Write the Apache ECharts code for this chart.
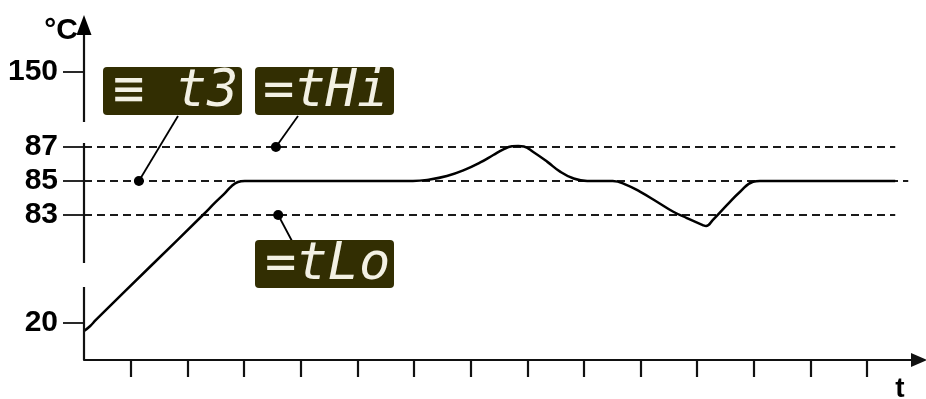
<!DOCTYPE html>
<html><head><meta charset="utf-8">
<script src="https://cdn.jsdelivr.net/npm/echarts@6/dist/echarts.min.js"></script>
<style>html,body{margin:0;padding:0;background:#fff}#c{width:926px;height:399px}</style>
</head><body><div id="c"></div>
<script>
// ---------- data ----------
const timeTicks = [1,2,3,4,5,6,7,8,9,10,11,12,13,14];
const tempTickValues = [20, 83, 85, 87, 150];
const tempTickLabels = ['20', '83', '85', '87', '150'];
const curveTime = [0.17,0.28,0.38,1.35,2.27,2.48,2.66,2.78,2.89,3.01,5.98,6.28,6.58,6.87,7.17,7.40,7.57,7.73,7.84,7.94,8.10,8.35,8.58,8.81,9.06,9.51,9.76,9.99,10.29,10.58,10.82,11.10,11.16,11.28,11.53,11.76,11.99,12.11,14.5];
const curveTemp = [15.7,18.4,23.2,80,83,83.71,84.29,84.71,84.94,85,85,85.09,85.29,85.62,86.09,86.53,86.85,87.04,87.06,87.03,86.72,86.14,85.55,85.16,85,85,84.76,84.37,83.78,83.19,82.82,82.41,82.35,82.71,83.59,84.37,84.96,85,85];
const limitTemps = [87, 85, 83];
const limitEndTime = [14.5, 14.73, 14.5];
const displayTexts = ['\u2261 t3', '=tHi', '=tLo'];
const pointerTime = [1.14, 3.56, 3.60];
const pointerTemp = [85, 87, 83];

// ---------- schematic (broken) temperature scale ----------
const breakTemps  = [0, 20, 80, 88, 150, 211];
const breakLevels = [0, 37, 94, 230, 288, 345];
function lv(t){
  for (let i = 0; i < breakTemps.length - 1; i++){
    if (t <= breakTemps[i+1] || i === breakTemps.length - 2){
      const f = (t - breakTemps[i]) / (breakTemps[i+1] - breakTemps[i]);
      return breakLevels[i] + f * (breakLevels[i+1] - breakLevels[i]);
    }
  }
}
const tickLv = tempTickValues.map(lv);

const X0 = 0.17, X1 = 14.92;
const chart = echarts.init(document.getElementById('c'));

const series = [];
limitTemps.forEach((t, i) => {
  series.push({
    type: 'line', silent: true, symbol: 'none', z: 2,
    data: [[X0, lv(t)], [limitEndTime[i], lv(t)]],
    lineStyle: { color: '#1a1a1a', width: 1.8, type: [8, 5] }
  });
});
series.push({
  type: 'line', silent: true, symbol: 'none', smooth: 0.45, z: 3,
  data: curveTime.map((x, i) => [x, lv(curveTemp[i])]),
  lineStyle: { color: '#000', width: 2.5 }
});
series.push({
  type: 'scatter', silent: true, symbolSize: 10, z: 4,
  data: pointerTime.map((x, i) => [x, lv(pointerTemp[i])]),
  itemStyle: { color: '#000', opacity: 1 }
});

chart.setOption({
  animation: false,
  grid: { left: 84, right: 7, top: 15, bottom: 39 },
  xAxis: {
    type: 'value', min: X0, max: X1,
    axisLine: { show: true, lineStyle: { color: '#111', width: 2.2 }, symbol: ['none', 'triangle'], symbolSize: [14, 16] },
    axisTick: { show: true, customValues: timeTicks, length: 17, lineStyle: { color: '#111', width: 2.2 } },
    axisLabel: { show: false },
    splitLine: { show: false }
  },
  yAxis: {
    type: 'value', min: 0, max: 345,
    axisLine: { show: false },
    axisTick: { show: true, customValues: tickLv, length: 21, lineStyle: { color: '#111', width: 1.8 } },
    axisLabel: {
      show: true, customValues: tickLv, margin: 26,
      fontFamily: 'Liberation Sans', fontWeight: 'bold', fontSize: 30, color: '#000',
      formatter: (v) => {
        const i = tickLv.findIndex(l => Math.abs(l - v) < 1e-6);
        return i >= 0 ? tempTickLabels[i] : '';
      }
    },
    splitLine: { show: false }
  },
  series: series
});

// ---------- decorations (axis breaks, arrow, displays) ----------
const px = (x, y) => chart.convertToPixel({ gridIndex: 0 }, [x, y]);
const ax = px(X0, 0)[0];
const py = (l) => px(X0, l)[1];
const axisSegments = [[0, 73], [97, 217], [238, 326]];
const graphics = [];
axisSegments.forEach(([a, b]) => {
  graphics.push({ type: 'line', z: 10, shape: { x1: ax, y1: py(a), x2: ax, y2: py(b) }, style: { stroke: '#111', lineWidth: 2.2 } });
});
graphics.push({ type: 'polygon', z: 10, shape: { points: [[ax - 7.5, py(325)], [ax + 7.5, py(325)], [ax, py(345)]] }, style: { fill: '#000' } });

const boxes = [[103, 67], [255, 67], [255, 240]];
const boxW = 139, boxH = 48;
const leaderStart = [[178, 116], [298, 116], [292, 241]];
const textX = [113, 263, 265];
boxes.forEach(([bx, by], i) => {
  const d = px(pointerTime[i], lv(pointerTemp[i]));
  graphics.push({ type: 'line', z: 11, shape: { x1: leaderStart[i][0], y1: leaderStart[i][1], x2: d[0], y2: d[1] }, style: { stroke: '#000', lineWidth: 1.8 } });
  graphics.push({ type: 'rect', z: 12, shape: { x: bx, y: by, width: boxW, height: boxH, r: 4 }, style: { fill: '#322e02' } });
  graphics.push({ type: 'text', z: 13, style: { text: displayTexts[i], x: textX[i], y: by + boxH / 2 + 1, font: 'italic 52px "DejaVu Sans Mono"', fill: '#f3f1e4', align: 'left', verticalAlign: 'middle' } });
});
graphics.push({ type: 'text', z: 13, style: { text: '\u00b0C', x: 78, y: 31, font: 'bold 30px "Liberation Sans"', fill: '#000', align: 'right', verticalAlign: 'middle' } });
graphics.push({ type: 'text', z: 13, style: { text: 't', x: 900, y: 389, font: 'bold 28px "Liberation Sans"', fill: '#000', align: 'center', verticalAlign: 'middle' } });
chart.setOption({ graphic: graphics });
</script>
</body></html>
